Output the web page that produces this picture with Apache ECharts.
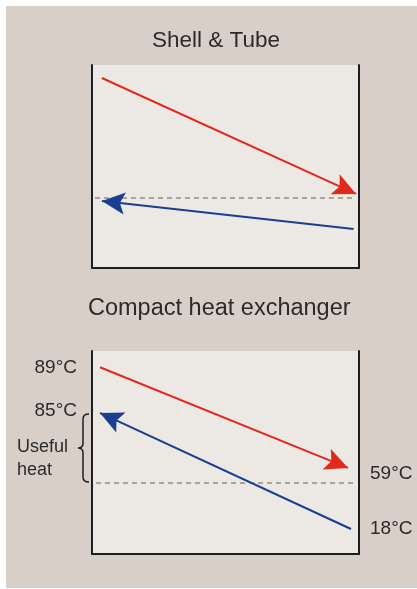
<!DOCTYPE html>
<html>
<head>
<meta charset="utf-8">
<script src="https://cdn.jsdelivr.net/npm/echarts@6/dist/echarts.min.js"></script>
<style>
html,body{margin:0;padding:0;background:#fff;}
#chart{width:417px;height:589px;}
</style>
</head>
<body>
<div id="chart"></div>
<script>
// Schematic units: x 0..100 along exchanger length, y 0..100 relative temperature level
const panelTitles = ['Shell & Tube', 'Compact heat exchanger'];
const shellHot = [[3.7, 93.6], [98.9, 36.5]];
const shellCold = [[98, 19.2], [3.7, 33]];
const shellDashed = [[1.1, 34.5], [98.5, 34.5]];
const compactHot = [[3, 92], [95.9, 42.4]];
const compactCold = [[97, 12.3], [3, 69.5]];
const compactDashed = [[1.5, 35], [98.9, 35]];
const tempLabels = ['89°C', '85°C', '59°C', '18°C'];
const tempLabelPos = [[0, 91.6], [0, 70.7], [100, 39.4], [100, 12.3]];
const usefulHeatRange = [35.5, 69];
const usefulHeatText = 'Useful\nheat';

const RED = '#e2291d', BLUE = '#1b3d92', DASH = '#aaa29d', AXIS = '#1e1e1e';
const FONT = "'Liberation Sans', Arial, sans-serif";
const TXT = '#2b2b2b';
// arrow head whose tip sits at the centre of its bounding box (so it ends exactly on the line end)
const ARROW = 'path://M10,0 L10,0.01 M10,21 L19,42 L10,37.5 L1,42 Z';

const chart = echarts.init(document.getElementById('chart'), null, {renderer: 'canvas'});

function axesFor(i) {
  return {
    x: {type: 'value', gridIndex: i, min: 0, max: 100, axisLine: {show: true, lineStyle: {color: AXIS, width: 2}},
        axisTick: {show: false}, axisLabel: {show: false}, splitLine: {show: false}},
    yl: {type: 'value', gridIndex: i, min: 0, max: 100, position: 'left', axisLine: {show: true, onZero: false, lineStyle: {color: AXIS, width: 2}},
        axisTick: {show: false}, axisLabel: {show: false}, splitLine: {show: false}},
    yr: {type: 'value', gridIndex: i, min: 0, max: 100, position: 'right', axisLine: {show: true, onZero: false, lineStyle: {color: AXIS, width: 2}},
        axisTick: {show: false}, axisLabel: {show: false}, splitLine: {show: false}}
  };
}
const a0 = axesFor(0), a1 = axesFor(1);

function arrow(data, color, xi, yi) {
  return {
    type: 'lines', coordinateSystem: 'cartesian2d', xAxisIndex: xi, yAxisIndex: yi,
    symbol: ['none', ARROW], symbolSize: [1, [22, 46]],
    itemStyle: {color: color},
    lineStyle: {color: color, width: 2, opacity: 1, curveness: 0},
    data: [{coords: data}], silent: true, z: 5
  };
}
function dashed(data, xi, yi) {
  return {
    type: 'line', xAxisIndex: xi, yAxisIndex: yi, data: data, showSymbol: false, symbol: 'none',
    lineStyle: {color: DASH, width: 2, type: [5, 4]}, silent: true, z: 3
  };
}

const option = {
  animation: false,
  backgroundColor: 'transparent',
  graphic: [
    {type: 'rect', shape: {x: 6, y: 6, width: 411, height: 582}, style: {fill: '#d8cfc9'}, z: -10, silent: true},
    {type: 'text', left: 17, top: 436, style: {text: usefulHeatText, font: '18px ' + FONT, fill: TXT, lineHeight: 23, textAlign: 'left'}}
  ],
  title: [
    {text: panelTitles[0], left: 152, top: 29, padding: 0, textStyle: {fontFamily: FONT, fontSize: 22.5, fontWeight: 'normal', color: TXT}},
    {text: panelTitles[1], left: 88, top: 297, padding: 0, textStyle: {fontFamily: FONT, fontSize: 23.5, fontWeight: 'normal', color: TXT}}
  ],
  grid: [
    {left: 92, top: 65, width: 267, height: 203, show: true, backgroundColor: '#ece8e3', borderWidth: 0},
    {left: 92, top: 351, width: 267, height: 203, show: true, backgroundColor: '#ece8e3', borderWidth: 0}
  ],
  xAxis: [a0.x, a1.x],
  yAxis: [a0.yl, a0.yr, a1.yl, a1.yr],
  series: [
    dashed(shellDashed, 0, 0),
    arrow(shellHot, RED, 0, 0),
    arrow(shellCold, BLUE, 0, 0),
    dashed(compactDashed, 1, 2),
    arrow(compactHot, RED, 1, 2),
    arrow(compactCold, BLUE, 1, 2),
    {
      type: 'scatter', xAxisIndex: 1, yAxisIndex: 2, symbolSize: 0, clip: false, silent: true,
      itemStyle: {opacity: 1},
      data: tempLabelPos.map((p, i) => ({
        value: p,
        label: {show: true, formatter: tempLabels[i], position: p[0] === 0 ? 'left' : 'right', distance: p[0] === 0 ? 15 : 11,
                fontFamily: FONT, fontSize: 19, color: TXT, opacity: 1}
      }))
    },
    {
      type: 'custom', xAxisIndex: 1, yAxisIndex: 2, clip: false, silent: true,
      data: [usefulHeatRange],
      renderItem: function (params, api) {
        const top = api.coord([0, api.value(1)]);
        const bot = api.coord([0, api.value(0)]);
        const xr = top[0] - 3, xv = top[0] - 9, xt = top[0] - 14;
        const y1 = top[1], y2 = bot[1], ym = (y1 + y2) / 2, r = 5;
        const d = `M${xr} ${y1} Q${xv} ${y1} ${xv} ${y1 + r} L${xv} ${ym - r} Q${xv} ${ym} ${xt} ${ym} Q${xv} ${ym} ${xv} ${ym + r} L${xv} ${y2 - r} Q${xv} ${y2} ${xr} ${y2}`;
        return {type: 'path', shape: {pathData: d}, style: {stroke: AXIS, lineWidth: 1.5, fill: 'none'}};
      }
    }
  ]
};
chart.setOption(option);
</script>
</body>
</html>
